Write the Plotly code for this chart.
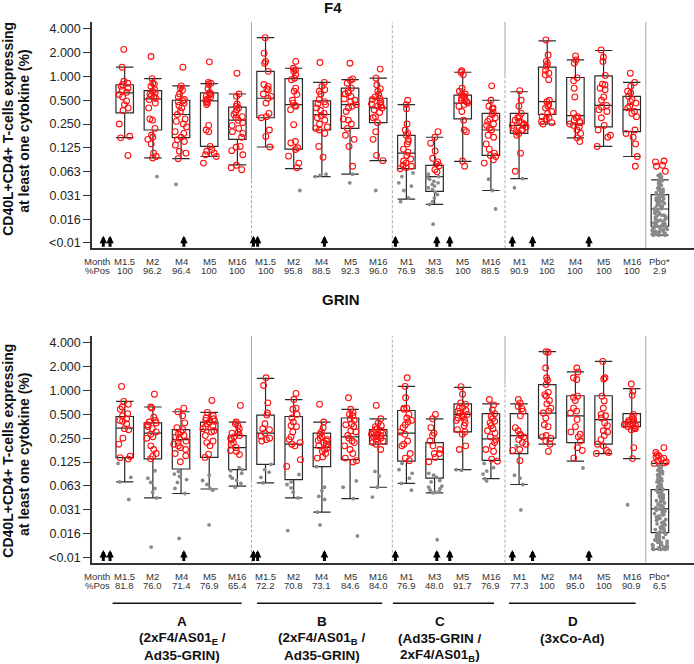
import plotly.graph_objects as go

# ---------------- data ----------------
MONTHS = ["M1.5", "M2", "M4", "M5", "M16", "M1.5", "M2", "M4", "M5", "M16",
          "M1", "M3", "M5", "M16", "M1", "M2", "M4", "M5", "M16", "Pbo*"]
F4_POS = ["100", "96.2", "96.4", "100", "100", "100", "95.8", "88.5", "92.3", "96.0",
          "76.9", "38.5", "100", "88.5", "90.9", "100", "100", "100", "100", "2.9"]
GRIN_POS = ["81.8", "76.0", "71.4", "76.9", "65.4", "72.2", "70.8", "73.1", "84.6", "84.0",
            "76.9", "48.0", "91.7", "76.9", "77.3", "100", "95.0", "100", "90.9", "6.5"]

TICK_VALS = [4, 2, 1, 0.5, 0.25, 0.125, 0.0625, 0.03125, 0.015625, 0.0078125]
TICK_TEXT = ["4.000", "2.000", "1.000", "0.500", "0.250", "0.125", "0.063", "0.031", "0.016", "<0.01"]

# box statistics (F4 panel)
F4_Q1 = [0.346, 0.21, 0.168, 0.13, 0.16, 0.30, 0.12, 0.21, 0.22, 0.26,
         0.068, 0.035, 0.29, 0.10, 0.19, 0.33, 0.25, 0.23, 0.20, 0.0127]
F4_MED = [0.62, 0.52, 0.33, 0.49, 0.28, 0.53, 0.44, 0.33, 0.44, 0.40,
          0.107, 0.054, 0.46, 0.21, 0.24, 0.48, 0.32, 0.43, 0.38, 0.021]
F4_Q3 = [0.785, 0.66, 0.50, 0.62, 0.41, 1.16, 0.94, 0.49, 0.71, 0.53,
         0.18, 0.075, 0.58, 0.34, 0.34, 1.31, 0.97, 1.02, 0.56, 0.032]
F4_LO = [0.168, 0.093, 0.091, 0.097, 0.076, 0.128, 0.068, 0.054, 0.058, 0.086,
         0.028, 0.024, 0.084, 0.036, 0.051, 0.25, 0.167, 0.13, 0.097, 0.0098]
F4_HI = [1.31, 0.94, 0.76, 0.81, 0.60, 3.1, 1.27, 0.84, 0.91, 0.95,
         0.44, 0.17, 1.13, 0.50, 0.64, 2.82, 1.62, 2.13, 0.84, 0.049]

# box statistics (GRIN panel)
GRIN_Q1 = [0.142, 0.137, 0.102, 0.143, 0.10, 0.117, 0.075, 0.109, 0.134, 0.21,
           0.128, 0.078, 0.30, 0.131, 0.16, 0.25, 0.22, 0.21, 0.35, 0.016]
GRIN_MED = [0.335, 0.29, 0.24, 0.32, 0.19, 0.29, 0.21, 0.19, 0.26, 0.27,
            0.29, 0.135, 0.50, 0.245, 0.27, 0.52, 0.48, 0.43, 0.40, 0.032]
GRIN_Q3 = [0.47, 0.39, 0.32, 0.40, 0.27, 0.49, 0.47, 0.29, 0.45, 0.32,
           0.56, 0.22, 0.68, 0.51, 0.51, 1.19, 0.86, 0.86, 0.51, 0.056]
GRIN_LO = [0.07, 0.044, 0.05, 0.057, 0.062, 0.068, 0.044, 0.029, 0.043, 0.06,
           0.067, 0.051, 0.10, 0.077, 0.065, 0.21, 0.128, 0.16, 0.138, 0.0098]
GRIN_HI = [0.73, 0.62, 0.54, 0.53, 0.40, 1.43, 0.77, 0.40, 0.58, 0.44,
           1.13, 0.44, 1.10, 0.68, 0.68, 3.1, 1.72, 2.34, 1.06, 0.12]

# responders (red) per box, F4
F4_RED = [
    [2.2, 1.31, 0.87, 0.82, 0.79, 0.75, 0.71, 0.67, 0.63, 0.59, 0.55, 0.49, 0.44, 0.40, 0.37, 0.25, 0.175, 0.167, 0.10],
    [1.79, 0.94, 0.82, 0.80, 0.75, 0.68, 0.65, 0.60, 0.57, 0.53, 0.51, 0.46, 0.40, 0.29, 0.28, 0.22, 0.18, 0.17, 0.16, 0.14, 0.107, 0.097, 0.093, 0.62, 0.55],
    [1.31, 0.76, 0.71, 0.67, 0.60, 0.55, 0.51, 0.49, 0.48, 0.46, 0.43, 0.40, 0.29, 0.27, 0.25, 0.23, 0.20, 0.17, 0.158, 0.15, 0.135, 0.113, 0.107, 0.091, 0.33, 0.36, 0.19],
    [1.53, 0.84, 0.82, 0.79, 0.62, 0.60, 0.59, 0.56, 0.55, 0.52, 0.50, 0.48, 0.46, 0.44, 0.24, 0.21, 0.20, 0.13, 0.118, 0.113, 0.107, 0.102, 0.097, 0.08, 0.7],
    [1.1, 0.60, 0.56, 0.45, 0.42, 0.40, 0.38, 0.35, 0.31, 0.30, 0.28, 0.26, 0.24, 0.20, 0.19, 0.17, 0.13, 0.127, 0.115, 0.102, 0.075, 0.07, 0.066, 0.22, 0.33],
    [3.1, 1.97, 1.55, 1.47, 1.16, 0.79, 0.75, 0.70, 0.68, 0.60, 0.56, 0.53, 0.46, 0.34, 0.31, 0.30, 0.21, 0.174, 0.128],
    [1.55, 1.27, 1.21, 1.16, 0.95, 0.91, 0.71, 0.65, 0.59, 0.46, 0.43, 0.42, 0.245, 0.144, 0.125, 0.119, 0.098, 0.08, 0.07, 0.5, 0.38, 1.05, 0.15],
    [1.5, 0.84, 0.75, 0.68, 0.65, 0.60, 0.51, 0.45, 0.44, 0.40, 0.37, 0.34, 0.30, 0.28, 0.23, 0.22, 0.21, 0.19, 0.13, 0.095, 0.25, 0.32, 0.48],
    [1.47, 0.93, 0.89, 0.82, 0.71, 0.62, 0.60, 0.56, 0.50, 0.48, 0.44, 0.42, 0.40, 0.36, 0.29, 0.28, 0.25, 0.22, 0.18, 0.16, 0.13, 0.073, 0.52, 0.65],
    [1.24, 0.95, 0.78, 0.70, 0.65, 0.59, 0.55, 0.53, 0.51, 0.48, 0.46, 0.45, 0.43, 0.40, 0.38, 0.35, 0.31, 0.30, 0.26, 0.2, 0.16, 0.1, 0.086, 0.42],
    [0.50, 0.44, 0.39, 0.25, 0.21, 0.19, 0.18, 0.16, 0.15, 0.14, 0.12, 0.11, 0.10, 0.09, 0.085, 0.08, 0.075, 0.073, 0.07, 0.068],
    [0.2, 0.17, 0.143, 0.114, 0.092, 0.083, 0.078, 0.074, 0.066, 0.062],
    [1.18, 1.13, 1.05, 0.71, 0.65, 0.60, 0.59, 0.56, 0.55, 0.53, 0.51, 0.50, 0.48, 0.46, 0.44, 0.42, 0.36, 0.28, 0.21, 0.2, 0.085, 0.073],
    [0.76, 0.5, 0.42, 0.40, 0.39, 0.35, 0.33, 0.30, 0.29, 0.27, 0.25, 0.24, 0.22, 0.21, 0.18, 0.17, 0.14, 0.12, 0.107, 0.1, 0.097, 0.088, 0.08],
    [0.66, 0.5, 0.42, 0.34, 0.31, 0.30, 0.28, 0.27, 0.26, 0.25, 0.24, 0.24, 0.23, 0.22, 0.21, 0.21, 0.2, 0.19, 0.18, 0.107, 0.063],
    [2.9, 1.87, 1.55, 1.45, 1.35, 1.2, 1.1, 1.05, 0.91, 0.5, 0.48, 0.44, 0.42, 0.4, 0.36, 0.34, 0.31, 0.3, 0.29, 0.27, 0.26, 0.25],
    [1.82, 1.62, 1.47, 0.96, 0.88, 0.71, 0.55, 0.34, 0.31, 0.30, 0.28, 0.27, 0.26, 0.25, 0.24, 0.23, 0.21, 0.19, 0.167, 0.15],
    [2.17, 1.75, 1.55, 1.03, 0.8, 0.78, 0.71, 0.68, 0.55, 0.5, 0.43, 0.41, 0.38, 0.36, 0.3, 0.24, 0.21, 0.18, 0.17, 0.13],
    [1.1, 0.84, 0.75, 0.65, 0.62, 0.56, 0.51, 0.48, 0.46, 0.42, 0.40, 0.36, 0.34, 0.31, 0.21, 0.19, 0.17, 0.14, 0.097, 0.073],
    [0.085, 0.083, 0.075, 0.073, 0.063],
]

# non-responders (grey) per box, F4
F4_GRAY = [
    [], [0.054], [0.043], [], [], [], [0.036], [0.054, 0.056, 0.058], [0.045, 0.058], [0.036],
    [0.06, 0.054, 0.045, 0.041, 0.036, 0.029, 0.026],
    [0.058, 0.054, 0.052, 0.05, 0.047, 0.045, 0.043, 0.041, 0.039, 0.037, 0.034, 0.032, 0.029, 0.026, 0.024, 0.0135],
    [], [0.05, 0.036, 0.021], [0.039, 0.051], [], [], [], [],
    [0.0098, 0.0098, 0.0099, 0.0098, 0.0100, 0.0099, 0.0101, 0.0103, 0.0102, 0.0105, 0.0107, 0.0106,
     0.0109, 0.0111, 0.0113, 0.0112, 0.0116, 0.0118, 0.0117, 0.0121, 0.0123, 0.0126, 0.0125, 0.0128,
     0.0131, 0.0134, 0.0133, 0.0137, 0.0141, 0.0140, 0.0145, 0.0149, 0.0152, 0.0156, 0.0155, 0.0161,
     0.0165, 0.0168, 0.0172, 0.0176, 0.0175, 0.0181, 0.0186, 0.0190, 0.0195, 0.0199, 0.0204, 0.0208,
     0.0207, 0.0212, 0.0217, 0.0221, 0.0226, 0.0232, 0.0236, 0.0241, 0.0247, 0.0252, 0.0258, 0.0263,
     0.0270, 0.0276, 0.0283, 0.0289, 0.0296, 0.0302, 0.0309, 0.0315, 0.0322, 0.0330, 0.0338, 0.0347,
     0.0355, 0.0366, 0.0374, 0.0385, 0.0396, 0.0410, 0.0421, 0.0436, 0.0449, 0.0462, 0.0478, 0.0491,
     0.0505, 0.0522, 0.0541, 0.0560, 0.0580],
]

# responders (red) per box, GRIN
GRIN_RED = [
    [1.13, 0.73, 0.67, 0.62, 0.58, 0.51, 0.48, 0.44, 0.42, 0.41, 0.38, 0.33, 0.32, 0.25, 0.21, 0.148, 0.142, 0.136],
    [0.9, 0.62, 0.6, 0.46, 0.42, 0.40, 0.39, 0.37, 0.35, 0.33, 0.3, 0.28, 0.26, 0.25, 0.2, 0.18, 0.16, 0.148, 0.137],
    [0.6, 0.54, 0.48, 0.39, 0.34, 0.32, 0.30, 0.28, 0.27, 0.26, 0.25, 0.23, 0.22, 0.21, 0.2, 0.19, 0.18, 0.16, 0.15, 0.126],
    [0.75, 0.53, 0.48, 0.45, 0.44, 0.42, 0.41, 0.40, 0.38, 0.36, 0.35, 0.33, 0.31, 0.30, 0.27, 0.23, 0.22, 0.2, 0.157, 0.143],
    [0.65, 0.4, 0.38, 0.36, 0.33, 0.30, 0.29, 0.27, 0.26, 0.25, 0.24, 0.22, 0.21, 0.19, 0.175, 0.17, 0.155],
    [1.45, 1.16, 0.7, 0.52, 0.49, 0.38, 0.33, 0.32, 0.29, 0.265, 0.25, 0.24, 0.23],
    [0.92, 0.77, 0.6, 0.58, 0.5, 0.45, 0.4, 0.36, 0.35, 0.3, 0.26, 0.24, 0.22, 0.21, 0.2, 0.134, 0.11],
    [0.67, 0.4, 0.34, 0.3, 0.28, 0.26, 0.25, 0.24, 0.235, 0.23, 0.22, 0.21, 0.2, 0.19, 0.18, 0.17, 0.16, 0.145, 0.14],
    [0.81, 0.58, 0.53, 0.5, 0.48, 0.44, 0.42, 0.38, 0.37, 0.35, 0.31, 0.3, 0.27, 0.25, 0.23, 0.22, 0.2, 0.18, 0.16, 0.14, 0.13, 0.125],
    [0.65, 0.44, 0.39, 0.36, 0.35, 0.33, 0.32, 0.31, 0.30, 0.29, 0.28, 0.27, 0.27, 0.26, 0.26, 0.25, 0.24, 0.23, 0.22, 0.21, 0.18],
    [1.45, 1.13, 0.81, 0.6, 0.6, 0.58, 0.5, 0.45, 0.42, 0.4, 0.37, 0.34, 0.3, 0.28, 0.23, 0.21, 0.2, 0.16, 0.14, 0.13],
    [0.5, 0.44, 0.34, 0.29, 0.27, 0.23, 0.2, 0.18, 0.16, 0.16, 0.143, 0.126],
    [1.12, 0.9, 0.7, 0.67, 0.61, 0.6, 0.56, 0.55, 0.52, 0.5, 0.48, 0.47, 0.45, 0.43, 0.42, 0.39, 0.36, 0.32, 0.3, 0.28, 0.2, 0.18],
    [0.77, 0.66, 0.57, 0.51, 0.47, 0.44, 0.41, 0.39, 0.36, 0.33, 0.31, 0.29, 0.26, 0.24, 0.22, 0.2, 0.18, 0.17, 0.136, 0.128],
    [0.77, 0.7, 0.63, 0.59, 0.55, 0.48, 0.34, 0.31, 0.28, 0.27, 0.26, 0.24, 0.22, 0.21, 0.18, 0.175, 0.13],
    [3.1, 3.05, 1.93, 1.45, 1.35, 1.19, 0.95, 0.89, 0.85, 0.75, 0.68, 0.6, 0.55, 0.52, 0.45, 0.37, 0.35, 0.27, 0.26, 0.25, 0.23, 0.21, 0.17],
    [1.93, 1.72, 1.45, 1.38, 0.85, 0.82, 0.75, 0.6, 0.55, 0.52, 0.43, 0.35, 0.3, 0.28, 0.26, 0.23, 0.19, 0.175, 0.14],
    [2.34, 1.45, 1.4, 0.85, 0.74, 0.6, 0.5, 0.48, 0.45, 0.39, 0.36, 0.31, 0.3, 0.27, 0.24, 0.21, 0.2, 0.175, 0.165, 0.16],
    [1.21, 0.98, 0.87, 0.5, 0.46, 0.44, 0.42, 0.41, 0.40, 0.39, 0.38, 0.37, 0.36, 0.35, 0.34, 0.33, 0.32, 0.19, 0.138],
    [0.19, 0.165, 0.155, 0.15, 0.145, 0.14, 0.135, 0.13, 0.125, 0.122, 0.12],
]

# non-responders (grey) per box, GRIN
GRIN_GRAY = [
    [0.12, 0.08, 0.07, 0.042],
    [0.097, 0.078, 0.069, 0.058, 0.052, 0.044, 0.0105],
    [0.095, 0.088, 0.082, 0.075, 0.069, 0.058, 0.05, 0.0135],
    [0.085, 0.073, 0.065, 0.058, 0.055, 0.02],
    [0.106, 0.1, 0.097, 0.09, 0.083, 0.078, 0.073, 0.067, 0.06],
    [0.117, 0.1, 0.093, 0.08, 0.068],
    [0.087, 0.07, 0.065, 0.059, 0.052, 0.044, 0.017],
    [0.109, 0.06, 0.054, 0.046, 0.042, 0.029, 0.02],
    [0.072, 0.06, 0.043, 0.0145],
    [0.095, 0.083, 0.06, 0.045],
    [0.12, 0.1, 0.09, 0.078, 0.067, 0.055],
    [0.09, 0.085, 0.08, 0.073, 0.07, 0.062, 0.06, 0.058, 0.055, 0.053, 0.052, 0.051, 0.013],
    [0.1, 0.098],
    [0.12, 0.106, 0.096, 0.088, 0.077, 0.072],
    [0.2, 0.085, 0.078, 0.065, 0.031],
    [], [0.105], [], [0.036],
    [0.0098, 0.0098, 0.0099, 0.0098, 0.0100, 0.0102, 0.0101, 0.0104, 0.0107, 0.0106, 0.0110, 0.0113,
     0.0112, 0.0117, 0.0121, 0.0120, 0.0125, 0.0129, 0.0133, 0.0132, 0.0138, 0.0143, 0.0142, 0.0148,
     0.0153, 0.0158, 0.0163, 0.0162, 0.0169, 0.0175, 0.0181, 0.0180, 0.0187, 0.0194, 0.0200, 0.0207,
     0.0206, 0.0214, 0.0221, 0.0229, 0.0236, 0.0235, 0.0244, 0.0252, 0.0261, 0.0270, 0.0269, 0.0279,
     0.0288, 0.0298, 0.0309, 0.0308, 0.0319, 0.0330, 0.0342, 0.0354, 0.0353, 0.0366, 0.0379, 0.0392,
     0.0405, 0.0404, 0.0419, 0.0433, 0.0448, 0.0464, 0.0463, 0.0480, 0.0497, 0.0514, 0.0532, 0.0531,
     0.0550, 0.0569, 0.0589, 0.0610, 0.0609, 0.0631, 0.0653, 0.0676, 0.0700, 0.0724, 0.0749, 0.0775,
     0.0802, 0.0830, 0.0859, 0.0889, 0.0920, 0.0952, 0.0985, 0.1019, 0.1055, 0.1092, 0.1130],
]

# vaccination arrows (position on the category axis)
ARROW_X = [-0.76, -0.52, 2.1, 4.57, 4.72, 7.09, 9.61, 11.08, 11.54, 13.76, 14.48, 16.48]

GROUP_LINES = [["<b>A</b>", "<b>(2xF4/AS01<sub>E</sub> /</b>", "<b>Ad35-GRIN)</b>"],
               ["<b>B</b>", "<b>(2xF4/AS01<sub>B</sub> /</b>", "<b>Ad35-GRIN)</b>"],
               ["<b>C</b>", "<b>(Ad35-GRIN /</b>", "<b>2xF4/AS01<sub>B</sub>)</b>"],
               ["<b>D</b>", "<b>(3xCo-Ad)</b>"]]

# ---------------- layout helpers ----------------
W, H, L = 694, 664, 92
FONT = "Liberation Sans, Arial, sans-serif"
def pxx(p):
    return (p - L) / (W - L)
def pxy(p):
    return 1 - p / H

XR = [-1.161, 20.21]
YR = [-2.1747, 0.6903]
BOXW = 0.62

fig = go.Figure()

panels = [
    ("x", "y", F4_Q1, F4_MED, F4_Q3, F4_LO, F4_HI, F4_RED, F4_GRAY),
    ("x2", "y2", GRIN_Q1, GRIN_MED, GRIN_Q3, GRIN_LO, GRIN_HI, GRIN_RED, GRIN_GRAY),
]
for xa, ya, q1, med, q3, lo, hi, red, gray in panels:
    idx = list(range(len(MONTHS)))
    fig.add_trace(go.Box(
        x=idx, q1=q1, median=med, q3=q3, lowerfence=lo, upperfence=hi,
        xaxis=xa, yaxis=ya, width=BOXW, whiskerwidth=1, boxpoints=False,
        fillcolor="rgba(0,0,0,0)", line=dict(color="#2a2a2a", width=1.2),
        showlegend=False, hoverinfo="skip"))
    gx, gy = [], []
    for i, vals in enumerate(gray):
        gx += [i] * len(vals)
        gy += vals
    fig.add_trace(go.Box(
        x=gx, y=gy, xaxis=xa, yaxis=ya, width=BOXW, boxpoints="all", jitter=0.9,
        pointpos=0, fillcolor="rgba(0,0,0,0)", line=dict(color="rgba(0,0,0,0)", width=0),
        whiskerwidth=0, marker=dict(symbol="circle", size=3.8, color="#8a8a8a"),
        showlegend=False, hoverinfo="skip"))
    rx, ry = [], []
    for i, vals in enumerate(red):
        rx += [i] * len(vals)
        ry += vals
    fig.add_trace(go.Box(
        x=rx, y=ry, xaxis=xa, yaxis=ya, width=BOXW, boxpoints="all", jitter=0.85,
        pointpos=0, fillcolor="rgba(0,0,0,0)", line=dict(color="rgba(0,0,0,0)", width=0),
        whiskerwidth=0,
        marker=dict(symbol="circle-open", size=5.8, color="#ff1010", line=dict(width=1.1, color="#ff1010")),
        showlegend=False, hoverinfo="skip"))

axis_common = dict(showgrid=False, zeroline=False, showline=True, linecolor="#333", linewidth=1.5)
fig.update_layout(
    width=W, height=H, margin=dict(l=L, r=0, t=0, b=0),
    paper_bgcolor="white", plot_bgcolor="white", boxmode="overlay", showlegend=False,
    font=dict(family=FONT, color="#222"),
    xaxis=dict(domain=[0, 1], range=XR, anchor="y", showticklabels=False, ticks="", **axis_common),
    xaxis2=dict(domain=[0, 1], range=XR, anchor="y2", showticklabels=False, ticks="", **axis_common),
    yaxis=dict(domain=[pxy(249), pxy(22)], type="log", range=YR, anchor="x",
               tickvals=TICK_VALS, ticktext=TICK_TEXT, ticks="outside", ticklen=7, tickcolor="#333",
               tickfont=dict(size=12.5, color="#222"), **axis_common),
    yaxis2=dict(domain=[pxy(564.3), pxy(337)], type="log", range=YR, anchor="x2",
                tickvals=TICK_VALS, ticktext=TICK_TEXT, ticks="outside", ticklen=7, tickcolor="#333",
                tickfont=dict(size=12.5, color="#222"), **axis_common),
)

shapes = []
annotations = []

# divider lines: (x, [(y0, y1, dash)]) in domain fractions for each panel
DIV_TOP = [(4.5, [(0.304, 1, "solid"), (0, 0.304, "dash")]),
           (9.5, [(0, 1, "dash")]),
           (13.5, [(0.758, 1, "solid"), (0, 0.758, "dash")]),
           (18.5, [(0, 1, "solid")])]
DIV_BOT = [(4.5, [(0.362, 1, "solid"), (0, 0.362, "dash")]),
           (9.5, [(0, 1, "dash")]),
           (13.5, [(0.789, 1, "solid"), (0, 0.789, "dash")]),
           (18.5, [(0, 1, "solid")])]
for (xa, ya, divs) in [("x", "y", DIV_TOP), ("x2", "y2", DIV_BOT)]:
    for xv, segs in divs:
        for y0, y1, dash in segs:
            shapes.append(dict(type="line", xref=xa, yref=ya + " domain", x0=xv, x1=xv, y0=y0, y1=y1,
                               line=dict(color="#a8a8a8", width=1, dash="3px,2px" if dash == "dash" else "solid"),
                               layer="below"))

# arrows
for xa, ya in [("x", "y"), ("x2", "y2")]:
    for ax in ARROW_X:
        annotations.append(dict(x=ax, y=12.5 / 227, xref=xa, yref=ya + " domain", text="",
                                showarrow=True, ax=0, ay=12.5, arrowhead=2, arrowwidth=3,
                                arrowsize=0.5, arrowcolor="black", font=dict(size=1)))

# month / %pos rows
for axis_px, pos, xa in [(249, F4_POS, "x"), (564.3, GRIN_POS, "x2")]:
    for row_off, labels in [(13.5, MONTHS), (22.5, pos)]:
        for i, t in enumerate(labels):
            annotations.append(dict(x=i, y=pxy(axis_px + row_off), xref=xa, yref="paper", text=t,
                                    showarrow=False, xanchor="center", yanchor="middle",
                                    font=dict(size=9.5, color="#333")))
    annotations.append(dict(x=-0.98, y=pxy(axis_px + 13.5), xref=xa, yref="paper", text="Month",
                            showarrow=False, xanchor="center", yanchor="middle", font=dict(size=9.5, color="#333")))
    annotations.append(dict(x=-0.98, y=pxy(axis_px + 22.5), xref=xa, yref="paper", text="%Pos",
                            showarrow=False, xanchor="center", yanchor="middle", font=dict(size=9.5, color="#333")))

# panel titles
annotations.append(dict(x=pxx(333), y=pxy(8), xref="paper", yref="paper", text="<b>F4</b>",
                        showarrow=False, xanchor="center", yanchor="middle", font=dict(size=15, color="#111")))
annotations.append(dict(x=pxx(341), y=pxy(300), xref="paper", yref="paper", text="<b>GRIN</b>",
                        showarrow=False, xanchor="center", yanchor="middle", font=dict(size=15, color="#111")))

# y-axis titles (two lines each)
for c1, c2 in [(129.7, 131.7), (452.5, 455.8)]:
    annotations.append(dict(x=pxx(8.5), y=pxy(c1), xref="paper", yref="paper",
                            text="<b>CD40L+CD4+ T-cells expressing</b>", textangle=-90, showarrow=False,
                            xanchor="center", yanchor="middle", font=dict(size=14, color="#111")))
    annotations.append(dict(x=pxx(24.5), y=pxy(c2), xref="paper", yref="paper",
                            text="<b>at least one cytokine (%)</b>", textangle=-90, showarrow=False,
                            xanchor="center", yanchor="middle", font=dict(size=14, color="#111")))

# group bars and labels
GROUP_SPANS = [(-0.43, 4.15), (4.7, 9.14), (9.52, 13.11), (13.64, 18.14)]
GROUP_CENTERS = [2.04, 7.0, 11.2, 15.9]
LINE_Y = [623, 640, 657]
for (g0, g1), gc, lines in zip(GROUP_SPANS, GROUP_CENTERS, GROUP_LINES):
    shapes.append(dict(type="line", xref="x2", yref="paper", x0=g0, x1=g1, y0=pxy(605), y1=pxy(605),
                       line=dict(color="#111", width=1.6)))
    for ly, t in zip(LINE_Y, lines):
        annotations.append(dict(x=gc, y=pxy(ly), xref="x2", yref="paper", text=t, showarrow=False,
                                xanchor="center", yanchor="middle", align="center",
                                font=dict(size=13.5, color="#111")))

fig.update_layout(shapes=shapes, annotations=annotations)
fig.write_html("out.html", config={"displayModeBar": False},
               post_script="document.body.style.margin='0';document.body.style.padding='0';")
